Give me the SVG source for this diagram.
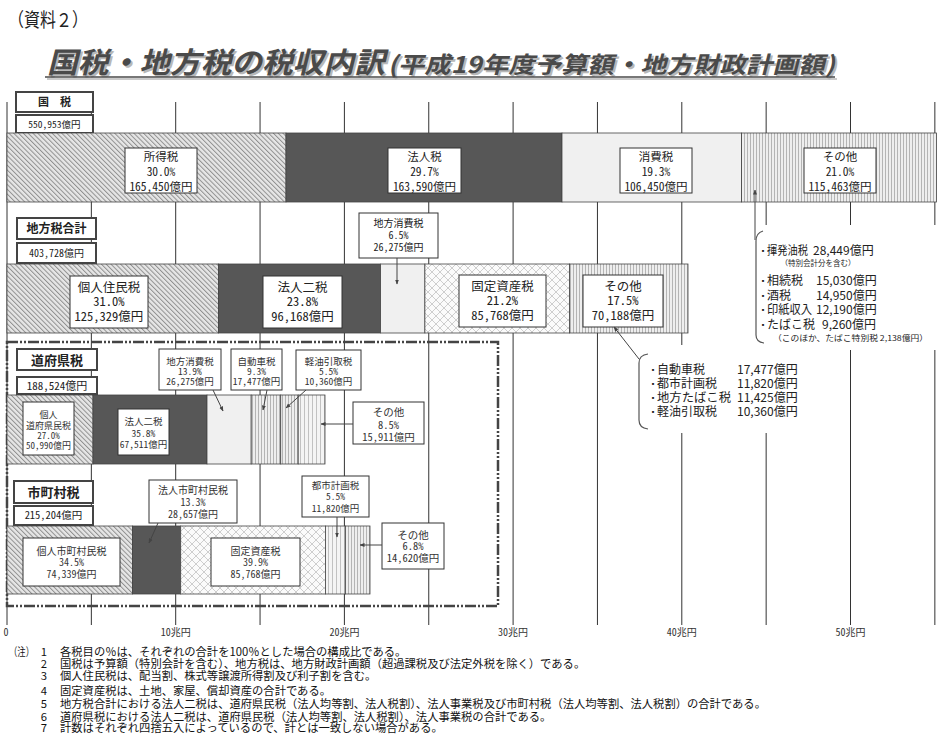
<svg xmlns="http://www.w3.org/2000/svg" width="946" height="744" viewBox="0 0 946 744">
<style>
.t{font-family:"Noto Sans CJK JP","Noto Sans CJK SC",sans-serif;fill:#222}
.h{font-feature-settings:"hwid" 1}
.c{text-anchor:middle}
.e{text-anchor:end}
.box{fill:#fff;stroke:#333;stroke-width:1}
.cat{fill:#fff;stroke:#444;stroke-width:2}
.seg{stroke:#444;stroke-width:0.8}
.grid{stroke:#333;stroke-width:1}
.conn{stroke:#444;stroke-width:1;fill:none}
.brk{stroke:#555;stroke-width:1.2;fill:none}
.dark{fill:#575757}
.light{fill:#f0f0f0}
.b{font-weight:bold}
.n{font-size:11.3px;fill:#111}
.bul{font-size:7px}
</style>
<defs>
<pattern id="diag" width="3.4" height="3.4" patternUnits="userSpaceOnUse" patternTransform="rotate(-45)">
<rect width="3.4" height="3.4" fill="#e6e6e6"/><rect width="1" height="3.4" fill="#909090"/>
</pattern>
<pattern id="vs" width="3" height="10" patternUnits="userSpaceOnUse">
<rect width="3" height="10" fill="#eeeeee"/><rect width="0.8" height="10" fill="#a6a6a6"/>
</pattern>
<pattern id="vs2" width="4" height="10" patternUnits="userSpaceOnUse">
<rect width="4" height="10" fill="#f4f4f4"/><rect width="0.8" height="10" fill="#b4b4b4"/>
</pattern>
<pattern id="cross" width="8" height="8" patternUnits="userSpaceOnUse">
<rect width="8" height="8" fill="#fbfbfb"/><path d="M0,0 L8,8 M8,0 L0,8" stroke="#b0b0b0" stroke-width="0.6"/>
</pattern>
<marker id="ah" viewBox="0 0 10 10" refX="9" refY="5" markerWidth="5" markerHeight="5" orient="auto" markerUnits="userSpaceOnUse">
<path d="M0,1 L10,5 L0,9 z" fill="#444"/>
</marker>
</defs>
<rect width="946" height="744" fill="#fff"/>

<g id="header">
<text class="t" x="8" y="27" font-size="19" textLength="80" lengthAdjust="spacingAndGlyphs">（資料２）</text>
<g transform="translate(2,2)">
<text class="t b" transform="translate(47,73) skewX(-14)" font-size="29" style="fill:#b8b8b8" textLength="338" lengthAdjust="spacingAndGlyphs">国税・地方税の税収内訳</text>
<text class="t b" transform="translate(388,73) skewX(-14)" font-size="23" style="fill:#b8b8b8" textLength="447" lengthAdjust="spacingAndGlyphs">(平成19年度予算額・地方財政計画額)</text>
<line x1="45" y1="77" x2="835" y2="77" stroke="#b8b8b8" stroke-width="1.5"/>
</g>
<text class="t b" transform="translate(47,73) skewX(-14)" font-size="29" style="fill:#4a4a4a" textLength="338" lengthAdjust="spacingAndGlyphs">国税・地方税の税収内訳</text>
<text class="t b" transform="translate(388,73) skewX(-14)" font-size="23" style="fill:#4a4a4a" textLength="447" lengthAdjust="spacingAndGlyphs">(平成19年度予算額・地方財政計画額)</text>
<line x1="45" y1="77" x2="835" y2="77" stroke="#4a4a4a" stroke-width="1.5"/>
</g>

<g id="grid">
<line class="grid" x1="7" y1="102" x2="7" y2="625"/>
<line class="grid" x1="91.35" y1="102" x2="91.35" y2="625"/>
<line class="grid" x1="175.7" y1="102" x2="175.7" y2="625"/>
<line class="grid" x1="260.05" y1="102" x2="260.05" y2="625"/>
<line class="grid" x1="344.4" y1="102" x2="344.4" y2="625"/>
<line class="grid" x1="428.75" y1="102" x2="428.75" y2="625"/>
<line class="grid" x1="513.1" y1="102" x2="513.1" y2="625"/>
<line class="grid" x1="597.45" y1="102" x2="597.45" y2="625"/>
<line class="grid" x1="681.8" y1="102" x2="681.8" y2="625"/>
<line class="grid" x1="766.15" y1="102" x2="766.15" y2="625"/>
<line class="grid" x1="850.5" y1="102" x2="850.5" y2="625"/>
<line class="grid" x1="934.85" y1="102" x2="934.85" y2="625"/>
<g class="t h c" font-size="10" style="fill:#333">
<text x="6" y="636">0</text>
<text x="175.7" y="636">10兆円</text>
<text x="344.4" y="636">20兆円</text>
<text x="513.1" y="636">30兆円</text>
<text x="681.8" y="636">40兆円</text>
<text x="850.5" y="636">50兆円</text>
</g>
</g>

<rect id="pref-muni-frame" x="7" y="342" width="491" height="264" fill="none" stroke="#444" stroke-width="2.5" stroke-dasharray="11 2 2 2 2 2"/>

<!-- National tax -->
<g id="kokuzei-label">
<rect class="cat" x="16" y="92" width="77" height="20"/>
<text class="t b c" x="54.5" y="106" font-size="11">国　税</text>
<rect class="cat" x="16" y="115" width="77" height="18"/>
<text class="t h c" x="54.5" y="128" font-size="9.5">550,953億円</text>
</g>
<g id="k-shotoku">
<rect class="seg" x="7" y="133" width="279" height="69" fill="url(#diag)"/>
<rect class="box" x="125" y="148" width="72" height="45"/>
<g class="t h c" font-size="11.5"><text x="161" y="161">所得税</text><text x="161" y="176">30.0%</text><text x="161" y="191">165,450億円</text></g>
</g>
<g id="k-hojin">
<rect class="seg dark" x="286" y="133" width="276" height="69"/>
<rect class="box" x="388" y="148" width="73" height="45"/>
<g class="t h c" font-size="11.5"><text x="424.5" y="161">法人税</text><text x="424.5" y="176">29.7%</text><text x="424.5" y="191">163,590億円</text></g>
</g>
<g id="k-shohi">
<rect class="seg light" x="562" y="133" width="179.6" height="69"/>
<rect class="box" x="620" y="148" width="72" height="45"/>
<g class="t h c" font-size="11.5"><text x="656" y="161">消費税</text><text x="656" y="176">19.3%</text><text x="656" y="191">106,450億円</text></g>
</g>
<g id="k-sonota">
<rect class="seg" x="741.6" y="133" width="194.8" height="69" fill="url(#vs)"/>
<rect class="box" x="804" y="148" width="72" height="45"/>
<g class="t h c" font-size="11.5"><text x="840" y="161">その他</text><text x="840" y="176">21.0%</text><text x="840" y="191">115,463億円</text></g>
</g>
<g id="k-sonota-detail">
<rect x="750" y="225" width="192" height="125" fill="#fff"/>
<g class="t bul"><text x="759.5" y="253">▪</text><text x="759.5" y="283">▪</text><text x="759.5" y="298">▪</text><text x="759.5" y="312">▪</text><text x="759.5" y="327">▪</text></g>
<g class="t" font-size="12">
<text x="767" y="255" textLength="41" lengthAdjust="spacingAndGlyphs">揮発油税</text><text x="813" y="255">28,449億円</text>
<text x="767" y="285">相続税</text><text x="816" y="285">15,030億円</text>
<text x="767" y="300">酒税</text><text x="816" y="300">14,950億円</text>
<text x="767" y="314" textLength="45" lengthAdjust="spacingAndGlyphs">印紙収入</text><text x="816" y="314">12,190億円</text>
<text x="767" y="329">たばこ税</text><text x="822" y="329">9,260億円</text>
</g>
<text class="t c" x="818" y="266" font-size="7.5">（特別会計分を含む）</text>
<text class="t" x="773" y="341" font-size="8" textLength="155" lengthAdjust="spacingAndGlyphs">（このほか、たばこ特別税 2,138億円）</text>
</g>

<!-- Local tax total -->
<g id="chiho-label">
<rect class="cat" x="17" y="218" width="79" height="21"/>
<text class="t b c" x="56.5" y="233" font-size="12">地方税合計</text>
<rect class="cat" x="17" y="243" width="79" height="20"/>
<text class="t h c" x="56.5" y="256.5" font-size="10">403,728億円</text>
</g>
<g id="c-kojin">
<rect class="seg" x="7" y="264" width="211.4" height="69" fill="url(#diag)"/>
<rect class="box" x="70" y="276" width="78" height="52"/>
<g class="t h c" font-size="12.5"><text x="109" y="292.4">個人住民税</text><text x="109" y="306.4">31.0%</text><text x="109" y="321.4">125,329億円</text></g>
</g>
<g id="c-hojin2">
<rect class="seg dark" x="218.4" y="264" width="162.2" height="69"/>
<rect class="box" x="263" y="276" width="79" height="52"/>
<g class="t h c" font-size="12.5"><text x="302.5" y="292.4">法人二税</text><text x="302.5" y="306.4">23.8%</text><text x="302.5" y="321.4">96,168億円</text></g>
</g>
<g id="c-chihoshohi">
<rect class="seg light" x="380.6" y="264" width="44.3" height="69"/>
<rect class="box" x="359" y="213" width="79" height="45"/>
<g class="t h c" font-size="10"><text x="398.5" y="226.5">地方消費税</text><text x="398.5" y="238.5">6.5%</text><text x="398.5" y="250.5">26,275億円</text></g>
</g>
<g id="c-kotei">
<rect class="seg" x="424.9" y="264" width="144.7" height="69" fill="url(#cross)"/>
<rect class="box" x="459" y="275" width="87" height="52"/>
<g class="t h c" font-size="12.5"><text x="502.5" y="291.4">固定資産税</text><text x="502.5" y="305.4">21.2%</text><text x="502.5" y="320.4">85,768億円</text></g>
</g>
<g id="c-sonota">
<rect class="seg" x="569.6" y="264" width="118.4" height="69" fill="url(#vs)"/>
<rect class="box" x="583" y="275" width="80" height="52"/>
<g class="t h c" font-size="12.5"><text x="623" y="291.4">その他</text><text x="623" y="305.4">17.5%</text><text x="623" y="320.4">70,188億円</text></g>
</g>
<g id="c-sonota-detail">
<rect x="634" y="345" width="168" height="88" fill="#fff"/>
<g class="t bul"><text x="649.5" y="372">▪</text><text x="649.5" y="386">▪</text><text x="649.5" y="400">▪</text><text x="649.5" y="414">▪</text></g>
<g class="t" font-size="12">
<text x="657" y="374">自動車税</text><text x="737" y="374">17,477億円</text>
<text x="657" y="388">都市計画税</text><text x="737" y="388">11,820億円</text>
<text x="657" y="402" textLength="74" lengthAdjust="spacingAndGlyphs">地方たばこ税</text><text x="737" y="402">11,425億円</text>
<text x="657" y="416">軽油引取税</text><text x="737" y="416">10,360億円</text>
</g>
</g>

<!-- Prefectural tax -->
<g id="pref-label">
<rect class="cat" x="17" y="349" width="80" height="21"/>
<text class="t b c" x="57" y="364.5" font-size="13">道府県税</text>
<rect class="cat" x="17" y="377" width="80" height="17"/>
<text class="t h c" x="57" y="389.5" font-size="11">188,524億円</text>
</g>
<g id="p-kojin">
<rect class="seg" x="7" y="395" width="86" height="69" fill="url(#diag)"/>
<rect class="box" x="23" y="402" width="51" height="53"/>
<g class="t h c" font-size="9" style="fill:#333"><text x="48.5" y="418">個人</text><text x="48.5" y="429">道府県民税</text><text x="48.5" y="438.5">27.0%</text><text x="48.5" y="448.5">50,990億円</text></g>
</g>
<g id="p-hojin2">
<rect class="seg dark" x="93" y="395" width="114" height="69"/>
<rect class="box" x="118" y="409" width="51" height="46"/>
<g class="t h c" font-size="9.5" style="fill:#333"><text x="143.5" y="425.3">法人二税</text><text x="143.5" y="437">35.8%</text><text x="143.5" y="448">67,511億円</text></g>
</g>
<g id="p-chihoshohi">
<rect class="seg light" x="207" y="395" width="44.2" height="69"/>
<rect class="box" x="159" y="349" width="62" height="41"/>
<g class="t h c" font-size="9.5" style="fill:#333"><text x="190" y="364.5">地方消費税</text><text x="190" y="374.5">13.9%</text><text x="190" y="384.5">26,275億円</text></g>
</g>
<g id="p-jidosha">
<rect class="seg" x="251.2" y="395" width="29.5" height="69" fill="url(#vs)"/>
<rect class="box" x="231" y="349" width="51" height="41"/>
<g class="t h c" font-size="9.5" style="fill:#333"><text x="256.5" y="364.5">自動車税</text><text x="256.5" y="374.5">9.3%</text><text x="256.5" y="384.5">17,477億円</text></g>
</g>
<g id="p-keiyu">
<rect class="seg" x="280.7" y="395" width="17.5" height="69" fill="url(#vs)"/>
<rect class="box" x="296" y="350" width="65" height="40"/>
<g class="t h c" font-size="9.5" style="fill:#333"><text x="328.5" y="364.5">軽油引取税</text><text x="328.5" y="374.5">5.5%</text><text x="328.5" y="384.5">10,360億円</text></g>
</g>
<g id="p-sonota">
<rect class="seg" x="298.2" y="395" width="26.8" height="69" fill="url(#vs2)"/>
<rect class="box" x="353" y="402" width="71" height="42"/>
<g class="t h c" font-size="10.5" style="fill:#333"><text x="388.5" y="415.7">その他</text><text x="388.5" y="428.7">8.5%</text><text x="388.5" y="440.7">15,911億円</text></g>
</g>

<!-- Municipal tax -->
<g id="muni-label">
<rect class="cat" x="14" y="481" width="79" height="22"/>
<text class="t b c" x="53.5" y="496.5" font-size="13">市町村税</text>
<rect class="cat" x="14" y="506" width="79" height="19"/>
<text class="t h c" x="53.5" y="519" font-size="10.5">215,204億円</text>
</g>
<g id="m-kojin">
<rect class="seg" x="7" y="526" width="125.4" height="68" fill="url(#diag)"/>
<rect class="box" x="23" y="538" width="97" height="48"/>
<g class="t h c" font-size="10" style="fill:#333"><text x="71.5" y="554.5">個人市町村民税</text><text x="71.5" y="566">34.5%</text><text x="71.5" y="577.5">74,339億円</text></g>
</g>
<g id="m-hojin">
<rect class="seg dark" x="132.4" y="526" width="48.3" height="68"/>
<rect class="box" x="149" y="480" width="88" height="43"/>
<g class="t h c" font-size="10" style="fill:#333"><text x="193" y="493.5">法人市町村民税</text><text x="193" y="505.5">13.3%</text><text x="193" y="517.5">28,657億円</text></g>
</g>
<g id="m-kotei">
<rect class="seg" x="180.7" y="526" width="144.7" height="68" fill="url(#cross)"/>
<rect class="box" x="211" y="538" width="89" height="48"/>
<g class="t h c" font-size="10" style="fill:#333"><text x="255.5" y="554.5">固定資産税</text><text x="255.5" y="566">39.9%</text><text x="255.5" y="577.5">85,768億円</text></g>
</g>
<g id="m-toshi">
<rect class="seg" x="325.4" y="526" width="19.9" height="68" fill="url(#vs2)"/>
<rect class="box" x="302" y="476" width="67" height="41"/>
<g class="t h c" font-size="9.5" style="fill:#333"><text x="335.5" y="488.5">都市計画税</text><text x="335.5" y="499.5">5.5%</text><text x="335.5" y="511.5">11,820億円</text></g>
</g>
<g id="m-sonota">
<rect class="seg" x="345.3" y="526" width="24.7" height="68" fill="url(#vs)"/>
<rect class="box" x="382" y="523" width="62" height="46"/>
<g class="t h c" font-size="10.5" style="fill:#333"><text x="413" y="538.7">その他</text><text x="413" y="549.7">6.8%</text><text x="413" y="561.7">14,620億円</text></g>
</g>

<g id="connectors">
<path class="brk" d="M763,231 Q756,233 756,241 L756,335 Q756,342 764,343"/>
<line class="conn" x1="755" y1="240" x2="755" y2="190" marker-end="url(#ah)"/>
<path class="brk" d="M648,354 Q639,355 639,363 L639,420 Q639,428 648,429"/>
<line class="conn" x1="639" y1="359" x2="614" y2="327" marker-end="url(#ah)"/>
<line class="conn" x1="397" y1="258" x2="397" y2="284" marker-end="url(#ah)"/>
<line class="conn" x1="213" y1="390" x2="223" y2="411" marker-end="url(#ah)"/>
<line class="conn" x1="267" y1="390" x2="263" y2="410" marker-end="url(#ah)"/>
<line class="conn" x1="306" y1="390" x2="286" y2="408" marker-end="url(#ah)"/>
<line class="conn" x1="353" y1="424" x2="321" y2="424" marker-end="url(#ah)"/>
<line class="conn" x1="158" y1="523" x2="149" y2="543" marker-end="url(#ah)"/>
<line class="conn" x1="337" y1="517" x2="337" y2="537" marker-end="url(#ah)"/>
<line class="conn" x1="382" y1="545" x2="360" y2="545" marker-end="url(#ah)"/>
</g>

<g id="notes" class="t n">
<text x="9" y="656" textLength="25" lengthAdjust="spacingAndGlyphs">（注）</text>
<g class="c"><text x="44" y="656">1</text><text x="44" y="668">2</text><text x="44" y="680">3</text><text x="44" y="695">4</text><text x="44" y="708">5</text><text x="44" y="721">6</text><text x="44" y="732">7</text></g>
<text x="60" y="656">各税目の％は、それぞれの合計を100％とした場合の構成比である。</text>
<text x="60" y="668">国税は予算額（特別会計を含む）、地方税は、地方財政計画額（超過課税及び法定外税を除く）である。</text>
<text x="60" y="680">個人住民税は、配当割、株式等譲渡所得割及び利子割を含む。</text>
<text x="60" y="695">固定資産税は、土地、家屋、償却資産の合計である。</text>
<text x="60" y="708">地方税合計における法人二税は、道府県民税（法人均等割、法人税割）、法人事業税及び市町村税（法人均等割、法人税割）の合計である。</text>
<text x="60" y="721">道府県税における法人二税は、道府県民税（法人均等割、法人税割）、法人事業税の合計である。</text>
<text x="60" y="732">計数はそれぞれ四捨五入によっているので、計とは一致しない場合がある。</text>
</g>
</svg>
